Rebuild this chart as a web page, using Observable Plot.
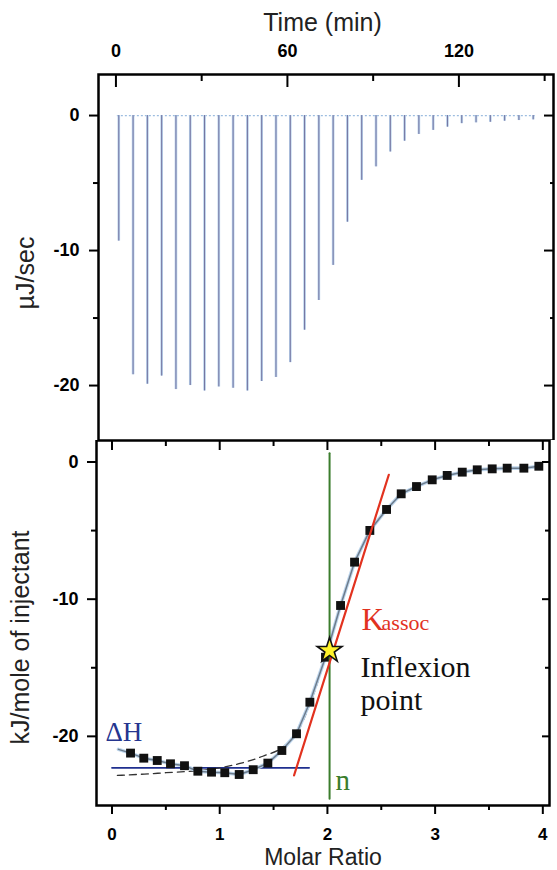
<!DOCTYPE html>
<html><head><meta charset="utf-8">
<script src="https://cdn.jsdelivr.net/npm/d3@7"></script>
<script src="https://cdn.jsdelivr.net/npm/@observablehq/plot@0.6"></script>
<style>
body{margin:0;background:#fff;}
#chart{width:557px;height:870px;position:relative;overflow:hidden;background:#fff;}
#chart svg{display:block;}
</style></head><body><div id="chart"></div>
<script>
// ---------- top panel: raw thermogram ----------
const injectionTime = [1, 6, 11, 16, 21, 26, 31, 36, 41, 46, 51, 56, 61, 66, 71, 76, 81, 86, 91, 96, 101, 106, 111, 116, 121, 126, 131, 136, 141, 146];
const peakPower = [-9.3, -19.2, -19.9, -19.3, -20.3, -20.0, -20.4, -20.1, -20.2, -20.4, -19.7, -19.4, -18.3, -15.9, -13.7, -11.1, -7.9, -4.8, -3.8, -2.7, -1.9, -1.4, -1.1, -0.86, -0.6, -0.54, -0.5, -0.42, -0.37, -0.32];
const baselineSpan = [0.5, 147];
const baselinePower = 0;
const timeTicksMajor = [0, 60, 120];
const timeTicksMinor = [30, 90, 150];
const powerTicksMajor = [0, -10, -20];
const powerTicksMinor = [-5, -15];

// ---------- bottom panel: integrated heats ----------
const molarRatio = [0.172, 0.295, 0.42, 0.543, 0.673, 0.797, 0.924, 1.047, 1.181, 1.311, 1.447, 1.577, 1.713, 1.837, 1.982, 2.122, 2.252, 2.394, 2.549, 2.685, 2.827, 2.973, 3.112, 3.252, 3.391, 3.530, 3.669, 3.824, 3.963];
const heat = [-21.22, -21.59, -21.76, -22.0, -22.14, -22.54, -22.61, -22.65, -22.78, -22.43, -21.95, -21.03, -19.81, -17.51, -14.23, -10.46, -7.30, -4.99, -3.46, -2.32, -1.79, -1.30, -0.98, -0.74, -0.57, -0.50, -0.45, -0.45, -0.31];
const fitSolidX = [0.06, 0.172, 0.295, 0.42, 0.543, 0.673, 0.797, 0.924, 1.047, 1.181, 1.311, 1.447, 1.577, 1.713, 1.837, 1.982, 2.122, 2.252, 2.394, 2.549, 2.685, 2.827, 2.973, 3.112, 3.252, 3.391, 3.530, 3.669, 3.824, 3.963];
const fitSolidY = [-20.95, -21.22, -21.59, -21.76, -22.0, -22.14, -22.54, -22.61, -22.65, -22.78, -22.43, -21.95, -21.03, -19.81, -17.51, -14.23, -10.46, -7.30, -4.99, -3.46, -2.32, -1.79, -1.30, -0.98, -0.74, -0.57, -0.50, -0.45, -0.45, -0.31];
const fitDashX = [0.05, 0.3, 0.5, 0.8, 1.0, 1.2, 1.4, 1.6, 1.72, 1.84, 1.98, 2.12, 2.25, 2.39, 2.55, 2.69, 2.83, 2.97, 3.11, 3.25, 3.39, 3.53, 3.67, 3.82, 3.96];
const fitDashY = [-22.85, -22.75, -22.65, -22.5, -22.3, -21.95, -21.45, -20.7, -19.7, -17.6, -14.3, -10.6, -7.5, -5.1, -3.5, -2.4, -1.8, -1.35, -1.0, -0.78, -0.62, -0.54, -0.48, -0.45, -0.38];
const deltaHX = [0, 1.83];
const deltaHY = [-22.29, -22.29];
const kassocX = [1.69, 2.57];
const kassocY = [-22.85, -0.93];
const nLineX = [2.02, 2.02];
const nLineY = [0.64, -24.55];
const inflexionX = [2.02];
const inflexionY = [-13.74];
const ratioTicksMajor = [0, 1, 2, 3, 4];
const ratioTicksMinor = [0.5, 1.5, 2.5, 3.5];
const heatTicksMajor = [0, -10, -20];
const heatTicksMinor = [-5, -15];

const SANS = "Liberation Sans, Arial, sans-serif";
const SERIF = "Liberation Serif, Times New Roman, serif";

const pts = (X, Y) => X.map((x, i) => ({x, y: Y[i]}));
const spikes = injectionTime.map((t, i) => ({t, p: peakPower[i]}));

const topPlot = Plot.plot({
  width: 557, height: 440,
  marginLeft: 98, marginRight: 4, marginTop: 74, marginBottom: 0,
  x: {domain: [-6.1, 153.1]},
  y: {domain: [-24.07, 3.04]},
  style: {fontFamily: SANS, background: "white"},
  marks: [
    Plot.ruleY([baselinePower], {x1: baselineSpan[0], x2: baselineSpan[1], stroke: "#9dbde0", strokeWidth: 1.2, strokeDasharray: "2,2"}),
    Plot.ruleX(spikes, {x: "t", y1: baselinePower, y2: "p", stroke: "#b9d2ec", strokeWidth: 2.6}),
    Plot.ruleX(spikes, {x: "t", y1: baselinePower, y2: "p", stroke: "#73739f", strokeWidth: 1}),
    Plot.frame({stroke: "black", strokeWidth: 2.5}),
    Plot.axisX({anchor: "top", ticks: timeTicksMajor, tickSize: -12, strokeWidth: 2, fill: "none", label: null}),
    Plot.axisX({anchor: "top", ticks: timeTicksMinor, tickSize: -6, strokeWidth: 2, fill: "none", label: null}),
    Plot.axisX({anchor: "top", ticks: timeTicksMajor, tickSize: 0, tickPadding: 18, fontSize: 18, fontWeight: "bold", label: null, tickFormat: d => d}),
    Plot.axisY({anchor: "left", ticks: powerTicksMajor, tickSize: 9, tickPadding: 10, strokeWidth: 2, fontSize: 18, fontWeight: "bold", label: null, tickFormat: d => d}),
    Plot.axisY({anchor: "left", ticks: powerTicksMinor, tickSize: 5, strokeWidth: 2, fill: "none", label: null}),
    Plot.axisY({anchor: "right", ticks: powerTicksMajor, tickSize: -10, strokeWidth: 2, fill: "none", label: null}),
    Plot.axisY({anchor: "right", ticks: powerTicksMinor, tickSize: -4, strokeWidth: 2, fill: "none", label: null}),
    Plot.text(["Time (min)"], {frameAnchor: "top", textAnchor: "middle", dx: -3.5, dy: -44, lineAnchor: "bottom", fontSize: 25, fill: "#222"}),
    Plot.text(["µJ/sec"], {frameAnchor: "left", textAnchor: "middle", rotate: -90, dx: -65, dy: 15.5, lineAnchor: "bottom", fontSize: 25, fill: "#222"})
  ]
});

const bottomPlot = Plot.plot({
  width: 557, height: 430,
  marginLeft: 96, marginRight: 8, marginTop: 0, marginBottom: 65,
  x: {domain: [-0.144, 4.062]},
  y: {domain: [-25.04, 1.567]},
  style: {fontFamily: SANS, background: "white"},
  marks: [
    Plot.line(pts(deltaHX, deltaHY), {x: "x", y: "y", stroke: "#1f2f8f", strokeWidth: 1.8}),
    Plot.line(pts(fitDashX, fitDashY), {x: "x", y: "y", stroke: "#333", strokeWidth: 1.3, strokeDasharray: "7,5", curve: "monotone-x"}),
    Plot.line(pts(fitSolidX, fitSolidY), {x: "x", y: "y", stroke: "#bdd5ec", strokeWidth: 3.6}),
    Plot.line(pts(fitSolidX, fitSolidY), {x: "x", y: "y", stroke: "#6d7c8c", strokeWidth: 1.5}),
    Plot.dot(pts(molarRatio, heat), {x: "x", y: "y", symbol: "square", r: 5, fill: "#111", stroke: null}),
    Plot.line(pts(nLineX, nLineY), {x: "x", y: "y", stroke: "#3b7d2d", strokeWidth: 2}),
    Plot.line(pts(kassocX, kassocY), {x: "x", y: "y", stroke: "#e2321f", strokeWidth: 2.2}),
    Plot.dot(pts(inflexionX, inflexionY), {x: "x", y: "y", symbol: "star", r: 7.8, fill: "#fff22a", stroke: "#111", strokeWidth: 1.6}),
    Plot.text(["ΔH"], {x: deltaHX[0], y: deltaHY[0], dx: -6.5, dy: -26.3, textAnchor: "start", lineAnchor: "bottom", fontFamily: SERIF, fontSize: 27, fill: "#25358f"}),
    Plot.text(["K"], {x: inflexionX[0], y: inflexionY[0], dx: 32, dy: -20, textAnchor: "start", lineAnchor: "bottom", fontFamily: SERIF, fontSize: 31, fill: "#e2321f"}),
    Plot.text(["assoc"], {x: inflexionX[0], y: inflexionY[0], dx: 52, dy: -20, textAnchor: "start", lineAnchor: "bottom", fontFamily: SERIF, fontSize: 22, fill: "#e2321f"}),
    Plot.text(["Inflexion\npoint"], {x: inflexionX[0], y: inflexionY[0], dx: 31, dy: 60, textAnchor: "start", lineAnchor: "bottom", lineHeight: 1.11, fontFamily: SERIF, fontSize: 30, fill: "#111"}),
    Plot.text(["n"], {x: nLineX[1], y: nLineY[1], dx: 6, dy: -8.3, textAnchor: "start", lineAnchor: "bottom", fontFamily: SERIF, fontSize: 29, fill: "#3b7d2d"}),
    Plot.frame({stroke: "black", strokeWidth: 2.5}),
    Plot.axisX({anchor: "bottom", ticks: ratioTicksMajor, tickSize: 9, tickPadding: 13, strokeWidth: 2, fontSize: 17, fontWeight: "bold", label: null, tickFormat: d => d}),
    Plot.axisX({anchor: "bottom", ticks: ratioTicksMinor, tickSize: 5, strokeWidth: 2, fill: "none", label: null}),
    Plot.axisX({anchor: "top", ticks: ratioTicksMajor, tickSize: -9, strokeWidth: 2, fill: "none", label: null}),
    Plot.axisX({anchor: "top", ticks: ratioTicksMinor, tickSize: -5, strokeWidth: 2, fill: "none", label: null}),
    Plot.axisY({anchor: "left", ticks: heatTicksMajor, tickSize: 9, tickPadding: 9, strokeWidth: 2, fontSize: 18, fontWeight: "bold", label: null, tickFormat: d => d}),
    Plot.axisY({anchor: "left", ticks: heatTicksMinor, tickSize: 5, strokeWidth: 2, fill: "none", label: null}),
    Plot.axisY({anchor: "right", ticks: heatTicksMajor, tickSize: -8, strokeWidth: 2, fill: "none", label: null}),
    Plot.axisY({anchor: "right", ticks: heatTicksMinor, tickSize: -5, strokeWidth: 2, fill: "none", label: null}),
    Plot.text(["Molar Ratio"], {frameAnchor: "bottom", textAnchor: "middle", dy: 59, lineAnchor: "bottom", fontSize: 23, fill: "#222"}),
    Plot.text(["kJ/mole of injectant"], {frameAnchor: "left", textAnchor: "middle", rotate: -90, dx: -68, dy: 14.5, lineAnchor: "bottom", fontSize: 25, fill: "#222"})
  ]
});

const chart = document.getElementById("chart");
chart.append(topPlot, bottomPlot);
</script></body></html>
